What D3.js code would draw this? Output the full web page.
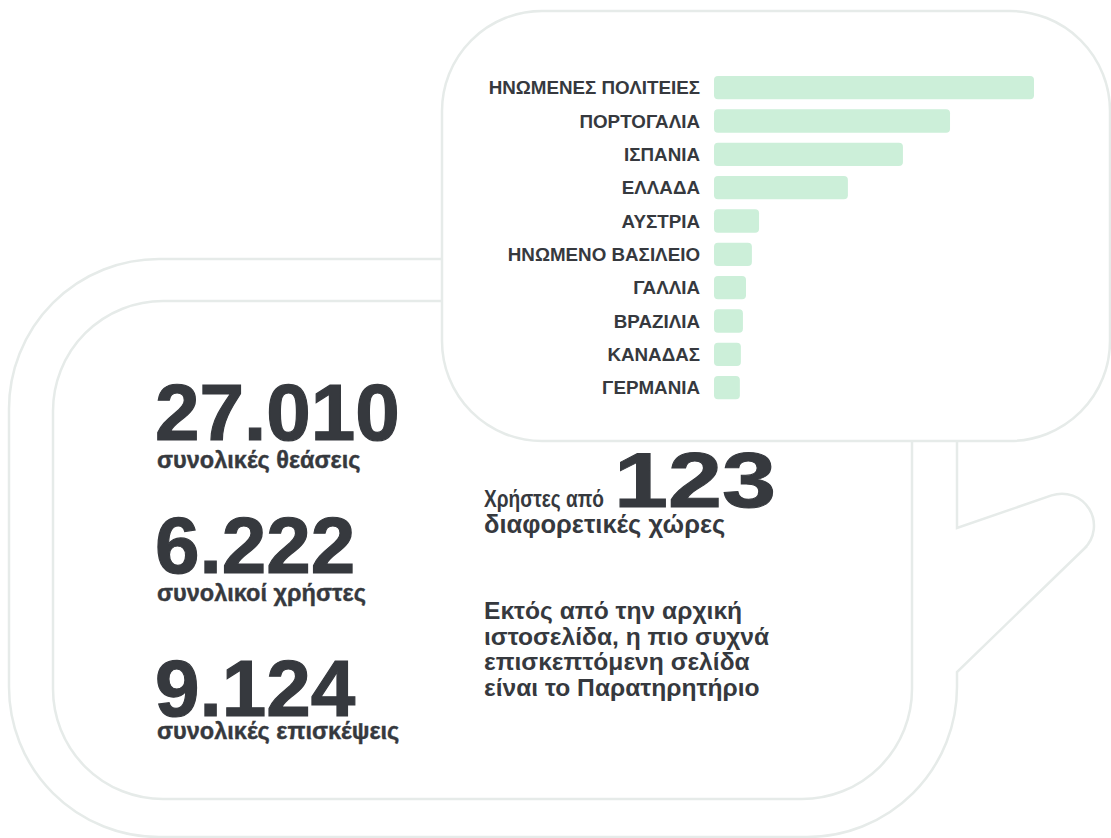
<!DOCTYPE html>
<html>
<head>
<meta charset="utf-8">
<script src="https://cdn.jsdelivr.net/npm/d3@7"></script>
<style>
  html, body { margin: 0; padding: 0; background: #ffffff; }
  svg { display: block; }
  text { font-family: "Liberation Sans", Arial, Helvetica, sans-serif; font-weight: bold; fill: #36393e; }
</style>
</head>
<body>
<svg id="chart" width="1111" height="838"></svg>
<script>
// ---- data ----
const countries = ["ΗΝΩΜΕΝΕΣ ΠΟΛΙΤΕΙΕΣ", "ΠΟΡΤΟΓΑΛΙΑ", "ΙΣΠΑΝΙΑ", "ΕΛΛΑΔΑ", "ΑΥΣΤΡΙΑ",
                   "ΗΝΩΜΕΝΟ ΒΑΣΙΛΕΙΟ", "ΓΑΛΛΙΑ", "ΒΡΑΖΙΛΙΑ", "ΚΑΝΑΔΑΣ", "ΓΕΡΜΑΝΙΑ"];
const users = [1250, 922, 738, 523, 176, 148, 125, 113, 105, 101];

const statValues = ["27.010", "6.222", "9.124"];
const statLabels = ["συνολικές θεάσεις", "συνολικοί χρήστες", "συνολικές επισκέψεις"];

const countriesCount = "123";
const countriesPre = "Χρήστες από";
const countriesPost = "διαφορετικές χώρες";
const noteLines = ["Εκτός από την αρχική", "ιστοσελίδα, η πιο συχνά", "επισκεπτόμενη σελίδα", "είναι το Παρατηρητήριο"];

// ---- drawing ----
const svg = d3.select("#chart");
const lineColor = "#e6ebe9";

// decorative mug outlines
const outer = d3.path();
outer.moveTo(442, 259);
outer.lineTo(159, 259);
outer.arcTo(9, 259, 9, 409, 150);
outer.lineTo(9, 687);
outer.arcTo(9, 837, 159, 837, 150);
outer.lineTo(807, 837);
outer.arcTo(957, 837, 957, 687, 150);
outer.lineTo(957, 672);
outer.lineTo(1087, 546);
outer.arcTo(1188, 448.5, 1047, 497, 32);
outer.lineTo(957, 528);
outer.lineTo(957, 441);

const inner = d3.path();
inner.moveTo(442, 301);
inner.lineTo(163, 301);
inner.arcTo(53, 301, 53, 411, 110);
inner.lineTo(53, 689);
inner.arcTo(53, 799, 163, 799, 110);
inner.lineTo(802, 799);
inner.arcTo(912, 799, 912, 689, 110);
inner.lineTo(912, 441);

svg.append("path").attr("d", outer.toString())
  .attr("fill", "none").attr("stroke", lineColor).attr("stroke-width", 2.5);
svg.append("path").attr("d", inner.toString())
  .attr("fill", "none").attr("stroke", lineColor).attr("stroke-width", 2.5);

svg.append("rect")
  .attr("x", 442).attr("y", 11).attr("width", 668).attr("height", 430)
  .attr("rx", 100).attr("ry", 100)
  .attr("fill", "#ffffff").attr("stroke", lineColor).attr("stroke-width", 2.5);

// bar chart
const x = d3.scaleLinear().domain([0, 1250]).range([714, 1034]);
const y = d3.scaleBand().domain(countries).range([71, 404.3]).paddingInner(0.3).paddingOuter(0.15);

svg.append("g").selectAll("rect")
  .data(countries)
  .join("rect")
  .attr("x", x(0))
  .attr("y", d => y(d))
  .attr("width", (d, i) => x(users[i]) - x(0))
  .attr("height", y.bandwidth())
  .attr("rx", 4).attr("ry", 4)
  .attr("fill", "#ccefd9");

const yAxis = svg.append("g")
  .attr("transform", `translate(${x(0)},0)`)
  .call(d3.axisLeft(y).tickSize(0).tickPadding(14));
yAxis.select(".domain").remove();
yAxis.selectAll("text")
  .style("font-family", '"Liberation Sans", Arial, sans-serif')
  .style("font-weight", "bold")
  .style("font-size", "18.8px")
  .attr("dy", "0.36em")
  .attr("fill", "#36393e");

// big stats
const statBase = [440, 573, 716];
const labelBase = [468, 601, 739];
statValues.forEach((v, i) => {
  svg.append("text").attr("x", 155).attr("y", statBase[i])
    .style("font-size", "80px")
    .attr("stroke", "#36393e").attr("stroke-width", 1.2)
    .text(v);
  svg.append("text").attr("x", 157).attr("y", labelBase[i])
    .style("font-size", "23.5px")
    .attr("stroke", "#36393e").attr("stroke-width", 0.4)
    .text(statLabels[i]);
});

// countries count
svg.append("text").attr("x", 484).attr("y", 507).style("font-size", "23px")
  .attr("textLength", 120).attr("lengthAdjust", "spacingAndGlyphs").text(countriesPre);
svg.append("text").attr("x", 614).attr("y", 507).style("font-size", "77px")
  .attr("textLength", 162).attr("lengthAdjust", "spacingAndGlyphs")
  .attr("stroke", "#36393e").attr("stroke-width", 1)
  .text(countriesCount);
svg.append("text").attr("x", 484).attr("y", 533).style("font-size", "25.5px").text(countriesPost);

// note
svg.append("g").selectAll("text")
  .data(noteLines)
  .join("text")
  .attr("x", 484)
  .attr("y", (d, i) => 619 + i * 25.5)
  .style("font-size", "24.6px")
  .text(d => d);
</script>
</body>
</html>
